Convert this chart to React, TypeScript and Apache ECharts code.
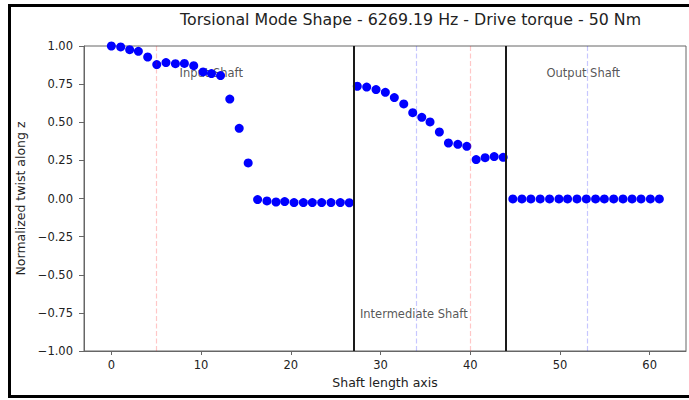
import React, { useEffect, useRef } from "react";
import * as echarts from "echarts";

// ---- Data ----
const inputX = [0, 1.04, 2.04, 3.01, 4.05, 5.06, 6.09, 7.14, 8.14, 9.18, 10.22, 11.16, 12.17, 13.2, 14.25, 15.25, 16.3, 17.34, 18.35, 19.32, 20.36, 21.4, 22.4, 23.44, 24.48, 25.52, 26.52];
const inputY = [1.0, 0.994, 0.976, 0.965, 0.928, 0.878, 0.891, 0.884, 0.886, 0.871, 0.83, 0.819, 0.806, 0.652, 0.46, 0.233, -0.007, -0.016, -0.023, -0.02, -0.027, -0.027, -0.027, -0.027, -0.027, -0.027, -0.028];
const interX = [27.41, 28.46, 29.5, 30.54, 31.54, 32.59, 33.59, 34.6, 35.52, 36.56, 37.57, 38.62, 39.62, 40.66, 41.66, 42.67, 43.67];
const interY = [0.736, 0.731, 0.714, 0.696, 0.662, 0.62, 0.563, 0.532, 0.502, 0.436, 0.364, 0.355, 0.342, 0.255, 0.268, 0.275, 0.27];
const outputX = [44.75, 45.76, 46.76, 47.8, 48.84, 49.89, 50.85, 51.9, 52.94, 53.97, 54.95, 55.99, 57.03, 58.04, 59.04, 60.08, 61.08];
const outputY = [-0.003, -0.003, -0.003, -0.003, -0.003, -0.003, -0.003, -0.003, -0.003, -0.003, -0.003, -0.003, -0.003, -0.003, -0.003, -0.003, -0.003];

const shaftBoundaries = [27, 44];
const redDashed = [5, 40];
const blueDashed = [34, 53];

const shaftLabels = ["Input Shaft", "Intermediate Shaft", "Output Shaft"];
const shaftLabelX = [7.6, 27.7, 48.5];
const shaftLabelY = [0.82, -0.76, 0.82];

const xTicks = [0, 10, 20, 30, 40, 50, 60];
const xMin = -3.05;
const xMax = 64.05;

const titleText = "Torsional Mode Shape - 6269.19 Hz - Drive torque - 50 Nm";
const xName = "Shaft length axis";
const yName = "Normalized twist along z";

const FONT = "DejaVu Sans";

export default function App() {
  const ref = useRef<HTMLDivElement>(null);

  useEffect(() => {
    if (!ref.current) return;
    const chart = echarts.init(ref.current, null, { renderer: "svg" });

    const pts: number[][] = [];
    inputX.forEach((x, i) => pts.push([x, inputY[i]]));
    interX.forEach((x, i) => pts.push([x, interY[i]]));
    outputX.forEach((x, i) => pts.push([x, outputY[i]]));

    const lineData: any[] = [];
    shaftBoundaries.forEach((v) =>
      lineData.push({ xAxis: v, lineStyle: { color: "#1a1a1a", width: 2, type: "solid" } })
    );
    redDashed.forEach((v) =>
      lineData.push({ xAxis: v, lineStyle: { color: "rgba(255,0,0,0.22)", width: 1.2, type: [5, 2.5] } })
    );
    blueDashed.forEach((v) =>
      lineData.push({ xAxis: v, lineStyle: { color: "rgba(0,0,255,0.22)", width: 1.2, type: [5, 2.5] } })
    );

    const fmtY = (v: number) => {
      const s = Math.abs(v).toFixed(2);
      return v < 0 ? "\u2212" + s : s;
    };

    chart.setOption({
      animation: false,
      backgroundColor: "#ffffff",
      title: {
        text: titleText,
        left: 180,
        top: 11,
        padding: 0,
        textStyle: { fontFamily: FONT, fontSize: 15.8, fontWeight: "normal", color: "#222" },
      },
      grid: {
        left: 84,
        right: 3,
        top: 46,
        bottom: 49,
        show: true,
        borderColor: "#666",
        borderWidth: 1,
        backgroundColor: "transparent",
      },
      xAxis: {
        type: "value",
        min: xMin,
        max: xMax,
        name: xName,
        nameLocation: "middle",
        nameGap: 25,
        nameTextStyle: { fontFamily: FONT, fontSize: 12.5, color: "#222" },
        axisLine: { show: true, onZero: false, lineStyle: { color: "#666", width: 1 } },
        axisTick: { show: true, length: 4, customValues: xTicks, lineStyle: { color: "#666" } },
        axisLabel: {
          customValues: xTicks,
          margin: 8,
          fontFamily: FONT,
          fontSize: 11.5,
          color: "#222",
          formatter: (v: number) => String(v),
        },
        splitLine: { show: false },
      },
      yAxis: {
        type: "value",
        min: -1,
        max: 1,
        interval: 0.25,
        name: yName,
        nameLocation: "middle",
        nameGap: 56,
        nameTextStyle: { fontFamily: FONT, fontSize: 12.5, color: "#222" },
        axisLine: { show: true, onZero: false, lineStyle: { color: "#666", width: 1 } },
        axisTick: { show: true, length: 5, lineStyle: { color: "#666" } },
        axisLabel: {
          margin: 11,
          fontFamily: FONT,
          fontSize: 11.5,
          color: "#222",
          formatter: fmtY,
        },
        splitLine: { show: false },
      },
      graphic: [
        {
          type: "rect",
          shape: { x: 9.5, y: 5.5, width: 700, height: 391 },
          style: { fill: "none", stroke: "#000", lineWidth: 3 },
          silent: true,
          z: 100,
        },
      ],
      series: [
        {
          type: "scatter",
          data: [],
          z: 1,
          silent: true,
          markLine: {
            silent: true,
            symbol: ["none", "none"],
            label: { show: false },
            data: lineData,
          },
        },
        {
          type: "scatter",
          z: 2,
          silent: true,
          symbolSize: 0,
          data: shaftLabels.map((n, i) => ({ name: n, value: [shaftLabelX[i], shaftLabelY[i]] })),
          label: {
            show: true,
            position: "right",
            distance: 0,
            formatter: "{b}",
            fontFamily: FONT,
            fontSize: 11.5,
            color: "#2a2a2a",
          },
        },
        {
          type: "scatter",
          z: 3,
          symbol: "circle",
          symbolSize: 9,
          itemStyle: { color: "#0000ff", opacity: 1 },
          data: pts,
        },
      ],
    });

    return () => chart.dispose();
  }, []);

  return (
    <div
      ref={ref}
      style={{ position: "absolute", left: 0, top: 0, width: 689, height: 400 }}
    />
  );
}
